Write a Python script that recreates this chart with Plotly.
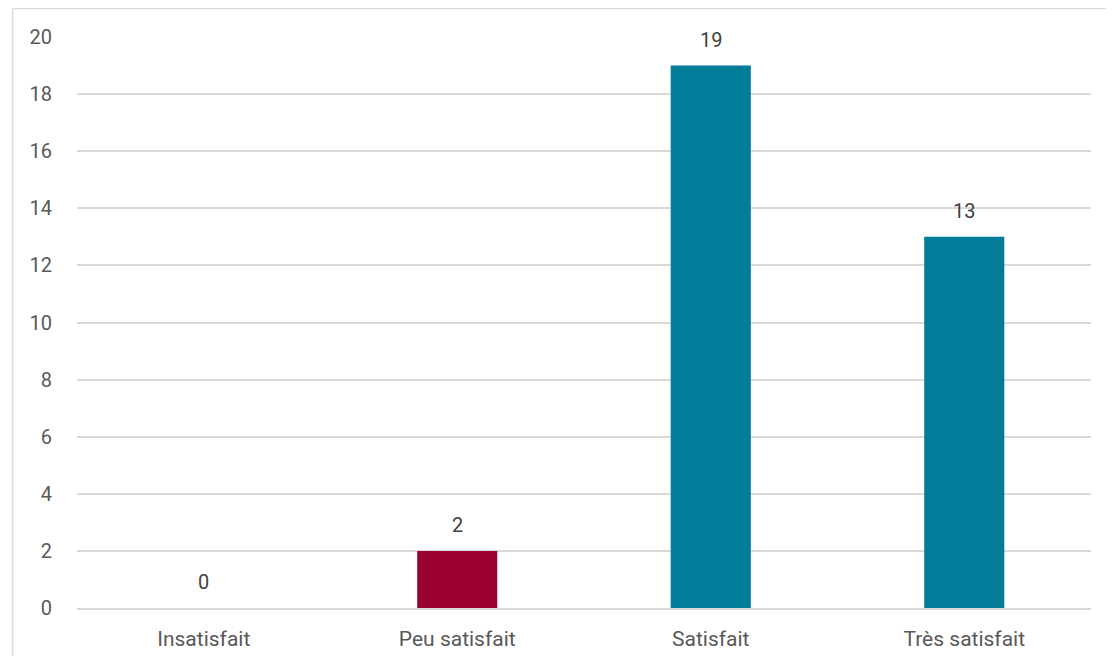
import plotly.graph_objects as go

categories = ["Insatisfait", "Peu satisfait", "Satisfait", "Très satisfait"]
values = [0, 2, 19, 13]
bar_colors = ["#037C9A", "#9A0030", "#037C9A", "#037C9A"]
y_ticks = [0, 2, 4, 6, 8, 10, 12, 14, 16, 18, 20]

FONT = "Roboto, 'Open Sans', sans-serif"
TEXT = "#595959"

# page body has an 8px margin, so the figure starts at (8, 8)
W, H = 1098, 648
ml, mr, mt, mb = 69, 15, 29, 48

fig = go.Figure()
fig.add_trace(go.Bar(
    x=categories, y=values,
    marker=dict(color=bar_colors, line=dict(width=0)),
    hoverinfo="x+y",
))

for c, v in zip(categories, values):
    fig.add_annotation(x=c, y=v, text=str(v), showarrow=False,
                       yshift=26, font=dict(family=FONT, size=20, color="#404040"))

pw = W - ml - mr
ph = H - mt - mb
# outer chart border (left and top visible)
x0 = (4.5 - ml) / pw
y1 = 1 + (mt - 0.5) / ph
fig.add_shape(type="line", xref="paper", yref="paper", x0=x0, x1=x0, y0=-2, y1=y1,
              line=dict(color="#D9D9D9", width=1.5))
fig.add_shape(type="line", xref="paper", yref="paper", x0=x0, x1=2, y0=y1, y1=y1,
              line=dict(color="#D9D9D9", width=1.5))

fig.update_layout(
    width=W, height=H,
    margin=dict(l=ml, r=mr, t=mt, b=mb, autoexpand=False),
    paper_bgcolor="white", plot_bgcolor="white",
    bargap=0.684,
    showlegend=False,
    font=dict(family=FONT, size=21, color=TEXT),
    xaxis=dict(showgrid=False, showline=True, linecolor="#D9D9D9", linewidth=1.5,
               automargin=False,
               ticks="", ticklabelstandoff=11, tickfont=dict(size=21, color=TEXT)),
    yaxis=dict(range=[0, 20], tickvals=y_ticks, showgrid=True, gridcolor="#D9D9D9",
               gridwidth=1.5, zeroline=False, showline=False, ticks="",
               automargin=False,
               ticklabelstandoff=24, tickfont=dict(size=20, color=TEXT)),
)

fig.write_html("out.html")
